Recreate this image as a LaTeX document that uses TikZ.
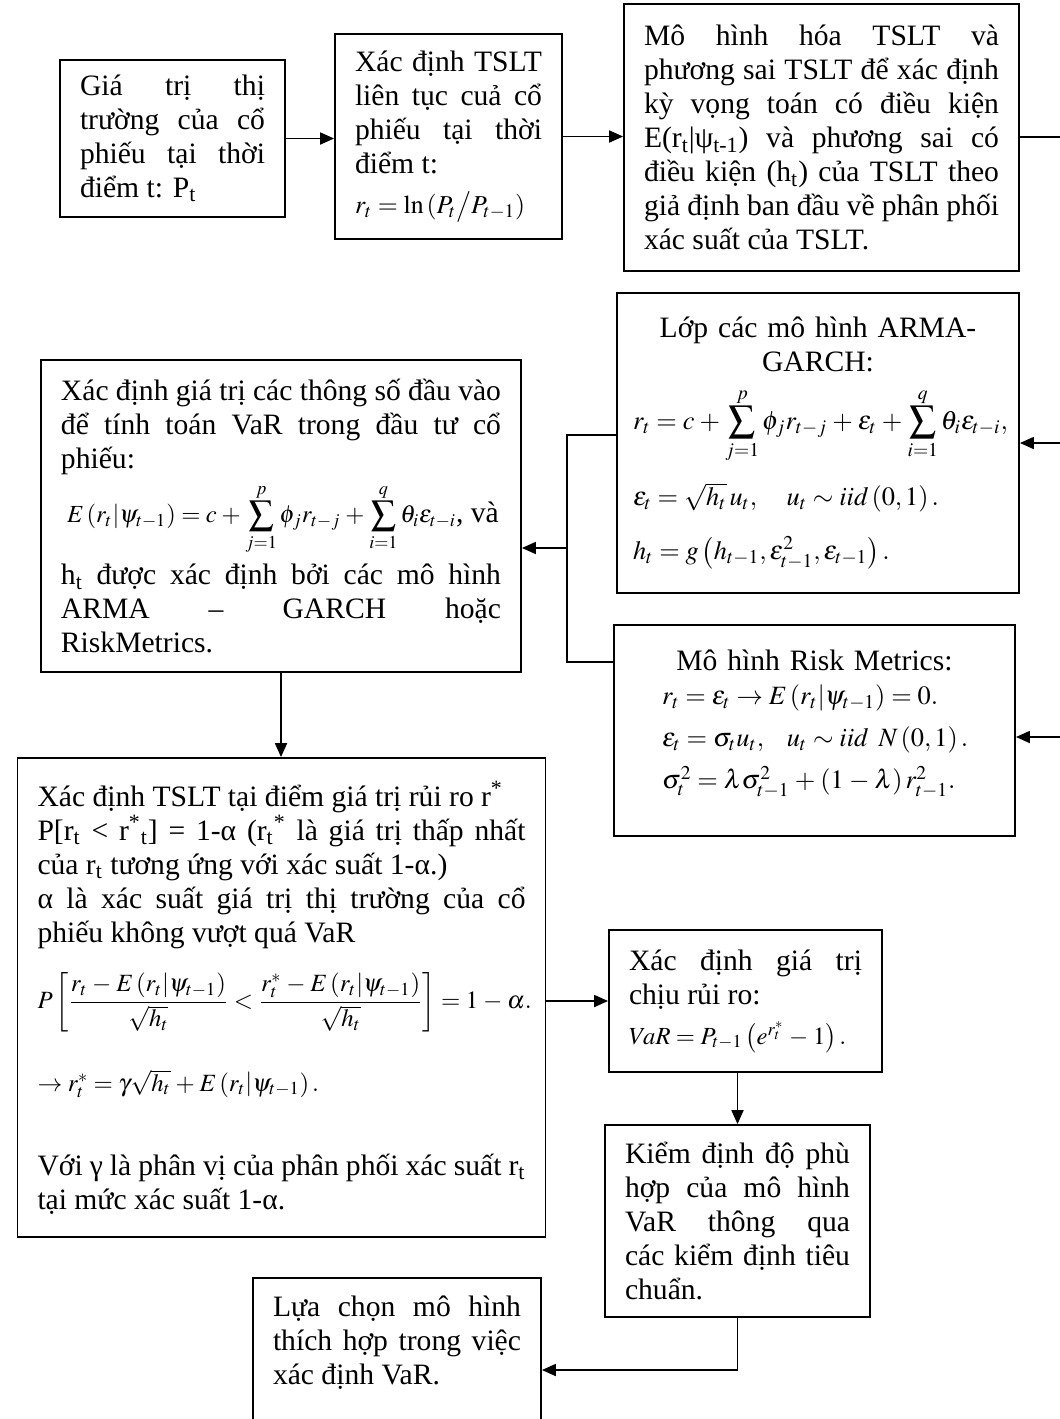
\documentclass[tikz,border=0pt]{standalone}
\usepackage{mathptmx}
\usepackage{fontspec}
\setmainfont{Liberation Serif}
\usetikzlibrary{arrows.meta,calc}

% size of the formulas inside the boxes
\newcommand{\eqsize}[1]{\fontsize{#1}{17}\selectfont
    \medmuskip=3.5mu plus 1mu minus 2mu\thickmuskip=4mu plus 2mu minus 1mu}

\begin{document}
\begin{tikzpicture}[
    x=0.5pt, y=-0.5pt,
    box/.style={rectangle, draw, line width=0.9pt, inner xsep=10pt, inner ysep=6pt,
        font={\fontsize{14.8}{17}\selectfont}, align=justify},
    arr/.style={line width=0.9pt, -{Triangle[length=7pt,width=6pt]}},
    link/.style={line width=0.9pt}
]
\clip (0,0) rectangle (1060,1419);

% Top row: price, log return, conditional model
\node[box, text width=92.5pt, minimum height=78.5pt] (price) at (172.5,138.5)
    {Giá trị thị\linebreak trường của cổ\linebreak phiếu tại thời\linebreak điểm t: P\textsubscript{t}};
\node[box, text width=93.5pt, minimum height=102.5pt] (logret) at (448.5,136.5)
    {Xác định TSLT\linebreak liên tục cuả cổ\linebreak phiếu tại thời\linebreak điểm t:\par
    \vspace{3pt}
    \centering {\eqsize{12.9}$r_t=\ln\left(P_t\middle/P_{t-1}\right)$}};
\node[box, text width=177.5pt, minimum height=133.5pt] (model) at (821.5,137.5)
    {Mô hình hóa TSLT và\linebreak phương sai TSLT để xác định\linebreak kỳ vọng toán có điều kiện\linebreak
    E(r\textsubscript{t}|ψ\textsubscript{t-1}) và phương sai có\linebreak điều kiện (h\textsubscript{t}) của TSLT theo\linebreak
    giả định ban đầu về phân phối\linebreak xác suất của TSLT.};

% Right column: the two model classes
\node[box, align=left, inner xsep=8pt, text width=185pt, minimum height=150pt] (garch) at (818,443)
    {{\centering Lớp các mô hình ARMA-\\GARCH:\par}
    \vspace{7pt}
    {\eqsize{13.2}\mbox{$\displaystyle r_t=c+\sum_{j=1}^{p}\phi_j r_{t-j}+\varepsilon_t+\sum_{i=1}^{q}\theta_i\varepsilon_{t-i},$}\\[9pt]
    $\varepsilon_t=\sqrt{h_t}\,u_t,\quad u_t\sim iid\left(0,1\right).$\\[10pt]
    $h_t=g\left(h_{t-1},\varepsilon_{t-1}^2,\varepsilon_{t-1}\right).$\par}};
\node[box, align=left, text width=180.5pt, minimum height=105.5pt] (riskm) at (814.5,730.5)
    {{\centering Mô hình Risk Metrics:\par}
    {\leftskip=14pt \eqsize{13.2}
    $r_t=\varepsilon_t\rightarrow E\left(r_t\middle|\psi_{t-1}\right)=0.$\\[4pt]
    $\varepsilon_t=\sigma_t u_t,\ \ u_t\sim iid\ N\left(0,1\right).$\\[4pt]
    $\sigma_t^2=\lambda\sigma_{t-1}^2+\left(1-\lambda\right)r_{t-1}^2.$\\[-6pt]\mbox{}\par}};

% Left column: inputs and critical return
\node[box, text width=220pt, minimum height=156pt] (params) at (281,516)
    {Xác định giá trị các thông số đầu vào\linebreak để tính toán VaR trong đầu tư cổ\linebreak phiếu:\par
    \vspace{4pt}
    \hspace*{3pt}{\eqsize{12.3}$\displaystyle E\left(r_t\middle|\psi_{t-1}\right)=c+\sum_{j=1}^{p}\phi_j r_{t-j}+\sum_{i=1}^{q}\theta_i\varepsilon_{t-i}$}, và\par
    \vspace{4pt}
    h\textsubscript{t} được xác định bởi các mô hình\linebreak ARMA – GARCH hoặc\linebreak RiskMetrics.};
\node[box, text width=244pt, minimum height=239.5pt] (quant) at (281.5,997.5)
    {Xác định TSLT tại điểm giá trị rủi ro r\textsuperscript{*}\\
    P[r\textsubscript{t} < r\textsuperscript{*}\textsubscript{t}] = 1-α (r\textsubscript{t}\textsuperscript{*} là giá trị thấp nhất\linebreak
    của r\textsubscript{t} tương ứng với xác suất 1-α.)\\
    α là xác suất giá trị thị trường của cổ\linebreak phiếu không vượt quá VaR\par
    \vspace{11pt}
    {\eqsize{12.4}\mbox{$\displaystyle P\left[\frac{r_t-E\left(r_t\middle|\psi_{t-1}\right)}{\sqrt{h_t}}<\frac{r_t^*-E\left(r_t\middle|\psi_{t-1}\right)}{\sqrt{h_t}}\right]=1-\alpha.$}\par
    \vspace{18pt}
    $\rightarrow r_t^*=\gamma\sqrt{h_t}+E\left(r_t\middle|\psi_{t-1}\right).$\par}
    \vspace{25pt}
    Với γ là phân vị của phân phối xác suất r\textsubscript{t}\linebreak tại mức xác suất 1-α.};

% Bottom right: VaR, back-testing, choice
\node[box, text width=116.5pt, minimum height=71pt] (var) at (745.5,1001)
    {Xác định giá trị\linebreak chịu rủi ro:\par
    \vspace{3pt}
    \centering {\eqsize{12.3}$VaR=P_{t-1}\left(e^{r_t^*}-1\right).$}};
\node[box, text width=112.5pt, minimum height=96pt] (test) at (737.5,1221)
    {Kiểm định độ phù\linebreak hợp của mô hình\linebreak VaR thông qua\linebreak các kiểm định tiêu\linebreak chuẩn.};
\node[box, anchor=north, inner ysep=9pt, text width=124pt] (choice) at (397,1277)
    {Lựa chọn mô hình\linebreak thích hợp trong việc\linebreak xác định VaR.\\ \mbox{}\\ \mbox{}\\ \mbox{}};

% Free ends at the right margin
\coordinate (rimtop) at (1060,137);
\coordinate (rimgarch) at (1060,443);
\coordinate (rimrisk) at (1060,737);
\coordinate (fork) at (567,548);

% Connectors
\draw[arr] (price.east) -- (price.east -| logret.west);
\draw[arr] (logret.east) -- (logret.east -| model.west);
\draw[link] (model.east |- rimtop) -- (rimtop);
\draw[arr] (rimgarch) -- (rimgarch -| garch.east);
\draw[arr] (rimrisk) -- (rimrisk -| riskm.east);
\draw[link] ([yshift=4pt]garch.west) -| (fork) |- ([yshift=-19pt]riskm.north west);
\draw[arr] (fork) -- (fork -| params.east);
\draw[arr] (params.south) -- (params.south |- quant.north);
\draw[arr] (quant.east |- var.west) -- (var.west);
\draw[arr] (test.north |- var.south) -- (test.north);
\draw[arr] (test.south) |- ([yshift=-46.5pt]choice.north east);

\end{tikzpicture}
\end{document}
